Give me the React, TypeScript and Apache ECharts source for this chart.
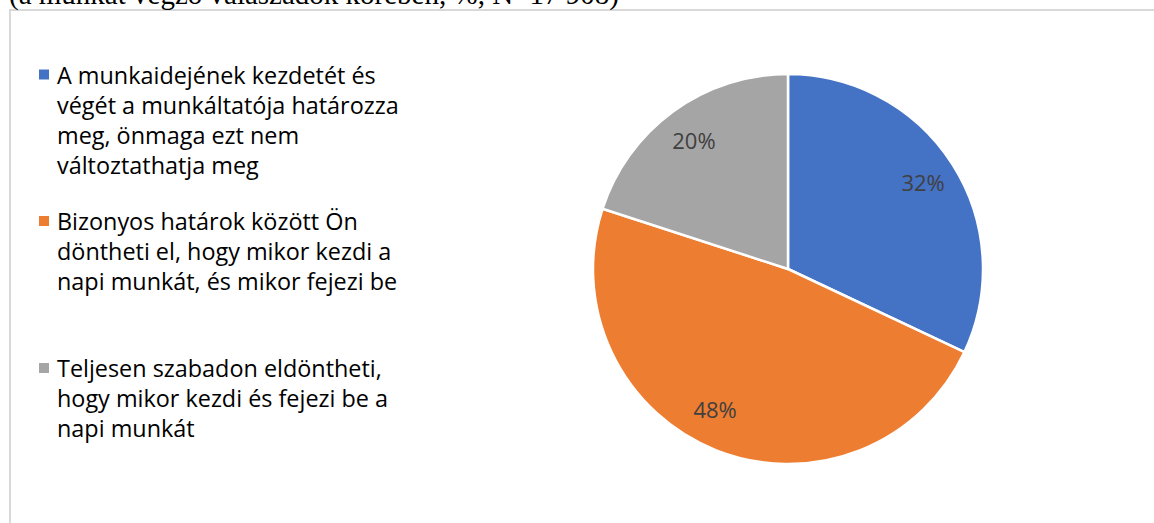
import React, { useEffect, useRef } from "react";
import * as echarts from "echarts";

const categories = [
  "A munkaidejének kezdetét és végét a munkáltatója határozza meg, önmaga ezt nem változtathatja meg",
  "Bizonyos határok között Ön döntheti el, hogy mikor kezdi a napi munkát, és mikor fejezi be",
  "Teljesen szabadon eldöntheti, hogy mikor kezdi és fejezi be a napi munkát",
];
const legendLines = [
  ["A munkaidejének kezdetét és", "végét a munkáltatója határozza", "meg, önmaga ezt nem", "változtathatja meg"],
  ["Bizonyos határok között Ön", "döntheti el, hogy mikor kezdi a", "napi munkát, és mikor fejezi be"],
  ["Teljesen szabadon eldöntheti,", "hogy mikor kezdi és fejezi be a", "napi munkát"],
];
const values = [32, 48, 20];
const colors = ["#4472C4", "#ED7D31", "#A5A5A5"];
const subtitle = "(a munkát végző válaszadók körében, %, N=17 908)";

const LH = 30;
const markerCenters = [74.5, 221, 368];
const labelNudge = [
  [0, -1],
  [-14, -9],
  [0, 0],
];

export default function App() {
  const ref = useRef<HTMLDivElement>(null);
  useEffect(() => {
    if (!ref.current) return;
    const chart = echarts.init(ref.current, null, { renderer: "svg" });
    const pieData = categories.map((n, i) => ({ name: n, value: values[i], itemStyle: { color: colors[i] } }));
    chart.setOption({
      animation: false,
      backgroundColor: "#fff",
      graphic: [
        {
          type: "rect",
          z: -10,
          shape: { x: 10, y: 10, width: 1300, height: 700 },
          style: { fill: "none", stroke: "#d9d9d9", lineWidth: 2 },
        },
        {
          type: "text",
          x: 9,
          y: 8,
          style: { text: subtitle, font: '29px "Liberation Serif"', fill: "#000", verticalAlign: "bottom" },
        },
      ],
      legend: legendLines.map((lines, i) => ({
        data: [categories[i]],
        left: 39,
        top: markerCenters[i] - ((2 * lines.length - 1) * LH) / 2,
        orient: "vertical",
        padding: 0,
        itemWidth: 16,
        itemHeight: 10,
        itemGap: 0,
        icon: "path://M0,0H10V10H0Z",
        symbolKeepAspect: true,
        selectedMode: false,
        itemStyle: { borderWidth: 0 },
        formatter: () => "\n".repeat(lines.length - 1) + lines.join("\n"),
        textStyle: {
          fontFamily: "Open Sans",
          fontSize: 23.4,
          lineHeight: LH,
          color: "#000",
        },
      })),
      series: [
        {
          type: "pie",
          center: [788, 269],
          radius: [0, 195],
          startAngle: 90,
          clockwise: true,
          label: { show: false },
          labelLine: { show: false },
          emphasis: { disabled: true },
          itemStyle: { borderColor: "#fff", borderWidth: 2.5 },
          data: pieData,
        },
        {
          type: "pie",
          center: [788, 269],
          radius: [118, 196],
          startAngle: 90,
          clockwise: true,
          silent: true,
          emphasis: { disabled: true },
          labelLine: { show: false },
          itemStyle: { color: "rgba(0,0,0,0)", borderWidth: 0 },
          label: {
            show: true,
            position: "inside",
            formatter: "{c}%",
            fontFamily: "Open Sans",
            fontSize: 22,
            color: "#404040",
          },
          labelLayout: (p: any) => ({ dx: labelNudge[p.dataIndex][0], dy: labelNudge[p.dataIndex][1] }),
          data: categories.map((n, i) => ({ name: n, value: values[i] })),
        },
      ],
    });
    return () => chart.dispose();
  }, []);
  return (
    <div
      ref={ref}
      style={{ position: "fixed", left: 0, top: 0, width: 1154, height: 523, background: "#fff" }}
    />
  );
}
